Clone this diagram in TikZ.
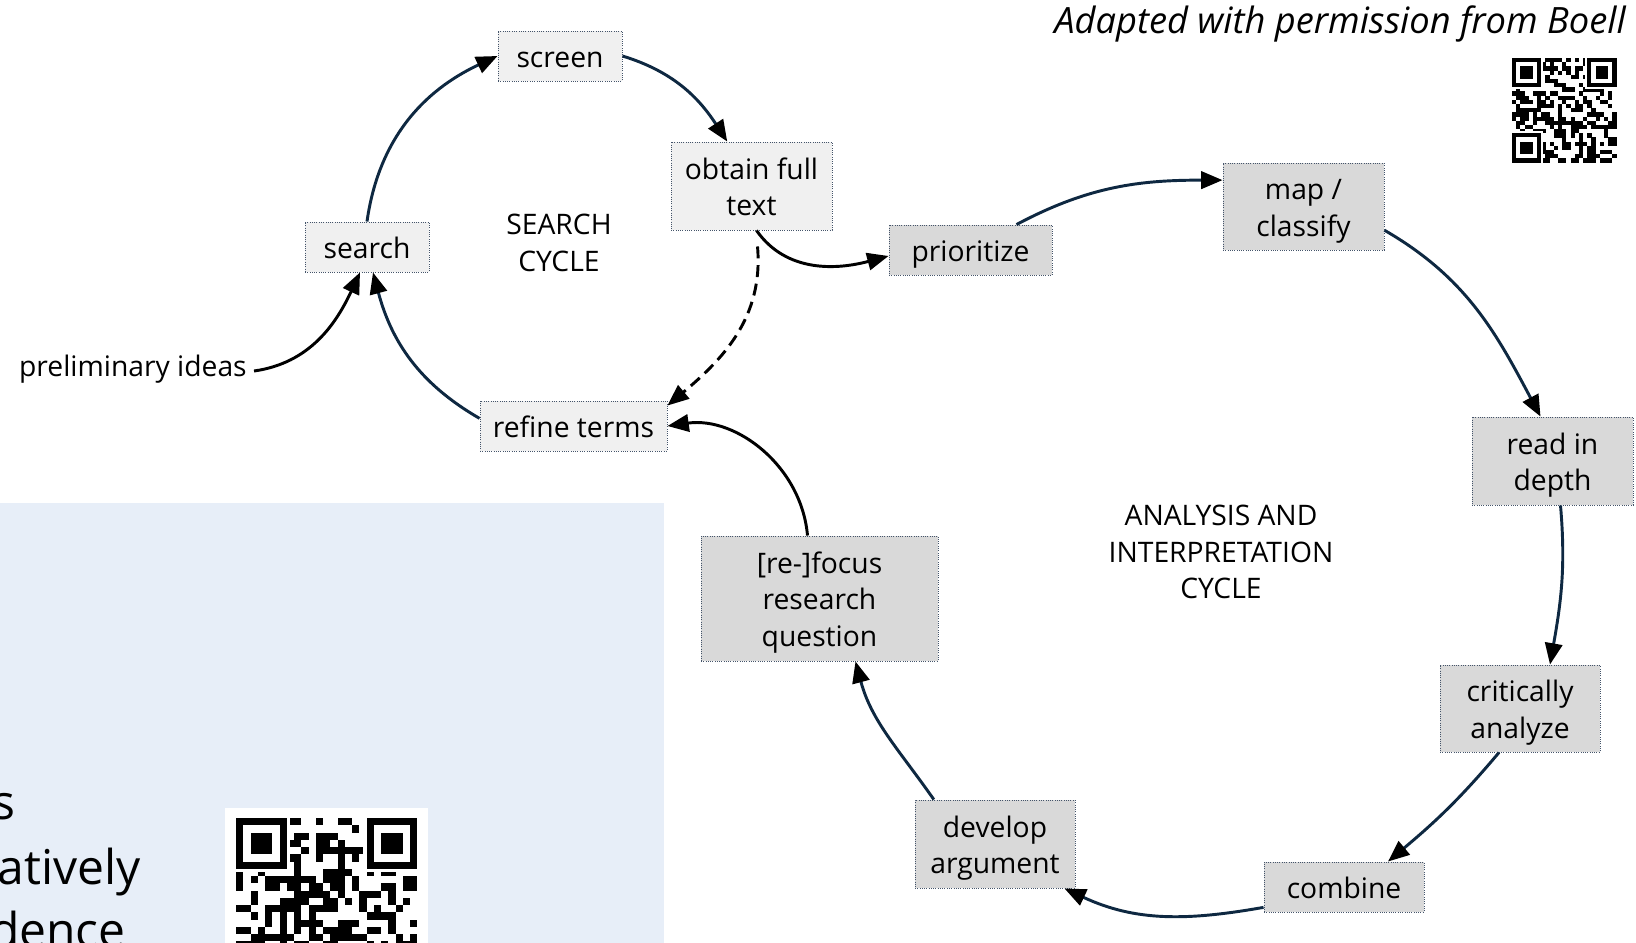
\documentclass[tikz,border=0pt]{standalone}
\usepackage{fontspec}
\setmainfont{Open Sans}
\usetikzlibrary{arrows.meta,calc}
\definecolor{navy}{HTML}{0E2841}
\definecolor{boxline}{HTML}{44546A}
\definecolor{lightbox}{HTML}{F0F0F0}
\definecolor{darkbox}{HTML}{D9D9D9}
\definecolor{panelblue}{RGB}{231,238,248}
\newcommand{\myqr}[4]{%
\begin{scope}[shift={(#1,#2)}, scale=#3]
 \pgfmathsetseed{#4}
 \foreach \i in {0,...,24}{\foreach \j in {0,...,24}{%
   \pgfmathrandominteger{\rr}{0}{1}%
   \ifnum\rr=1 \fill[black] (\i,\j) rectangle ++(1.02,1.02);\fi}}
 \foreach \a/\b in {0/0,18/0,0/18}{%
   \fill[white] (\a-0.5,\b-0.5) rectangle ++(8,8);
   \fill[black] (\a,\b) rectangle ++(7,7);
   \fill[white] (\a+1,\b+1) rectangle ++(5,5);
   \fill[black] (\a+2,\b+2) rectangle ++(3,3);}
\end{scope}}
\begin{document}
\begin{tikzpicture}[x=0.75pt,y=-0.75pt,
  boxfont/.style={font=\fontsize{21.2pt}{27.6pt}\selectfont},
  sz/.style 2 args={minimum width=#1*0.75pt, minimum height=#2*0.75pt},
  lbox/.style={draw=boxline, densely dotted, line width=0.7pt, fill=lightbox, inner sep=0pt, align=center, boxfont,
    execute at begin node={\rule{0pt}{25.5pt}}, execute at end node={\rule[-8.3pt]{0pt}{8.3pt}}},
  twol/.style={execute at begin node={\rule{0pt}{53.1pt}}},
  threel/.style={execute at begin node={\rule{0pt}{80.7pt}}},
  dbox/.style={lbox, fill=darkbox},
  arr/.style={-{Triangle[length=16pt,width=13pt,color=black]}, line width=2.2pt, draw=navy},
  barr/.style={arr, draw=black},
  lbl/.style={inner sep=0pt, align=center, boxfont}]
\useasboundingbox (0,0) rectangle (1636,943);
\clip (0,0) rectangle (1636,943);
\fill[white] (0,0) rectangle (1636,943);

% lower-left panel
\fill[panelblue] (0,503) rectangle (664,950);
\node[anchor=base east, inner sep=0pt, font=\fontsize{36pt}{40pt}\selectfont] (frag1) at (16,819) {s};
\node[anchor=base east, inner sep=0pt, font=\fontsize{36pt}{40pt}\selectfont] (frag2) at (141,884) {atively};
\node[anchor=base east, inner sep=0pt, font=\fontsize{36pt}{40pt}\selectfont] (frag3) at (126,947) {dence};
\fill[white] (225,808) rectangle (428,950);
\myqr{236}{818}{7.25}{17}

% header and QR
\node[anchor=base east, inner sep=0pt, font=\fontsize{27.2pt}{30pt}\selectfont\itshape] (credit) at (1626,33) {Adapted with permission from Boell};
\myqr{1512}{58}{4.18}{5}

% search cycle
\node[lbox, sz={124}{50}] (screen) at (560,56) {screen};
\node[lbox, twol, sz={161}{88}] (obtain) at (751.5,186) {obtain full\\text};
\node[lbox, sz={124}{50}] (search) at (367,247) {search};
\node[lbox, sz={187}{50}] (refine) at (573.5,426) {refine terms};
\node[lbl] (scyc) at (559,243) {SEARCH\\CYCLE};
\node[anchor=base east, inner sep=0pt, boxfont] (prelim) at (247,376) {preliminary ideas};

% analysis cycle
\node[dbox, sz={163}{50}] (prior) at (970.5,250) {prioritize};
\node[dbox, twol, sz={161}{87}] (map) at (1303.5,206.5) {map /\\classify};
\node[dbox, twol, sz={161}{88}] (read) at (1552.5,461) {read in\\depth};
\node[dbox, twol, sz={160}{87}] (crit) at (1520,708.5) {critically\\analyze};
\node[dbox, sz={160}{50}] (comb) at (1344,887) {combine};
\node[dbox, twol, sz={160}{88}] (dev) at (995,844) {develop\\argument};
\node[dbox, threel, sz={237}{125}] (focus) at (819.5,598.5) {[re-]focus\\research\\question};
\node[lbl] (acyc) at (1221,552) {ANALYSIS AND\\INTERPRETATION\\CYCLE};

% connectors: search cycle
\draw[arr] (search.north) to[out=82,in=205] (screen.west);
\draw[arr] (screen.east) to[out=-17,in=123] ($(obtain.north west)!0.35!(obtain.north east)$);
\draw[arr] ($(refine.north west)!0.35!(refine.south west)$) to[out=150,in=-75] ($(search.south)+(6,0)$);
\draw[barr] ($(prelim.base east)+(7,-5)$) to[out=8,in=245] ($(search.south)+(-7,0)$);
\draw[barr] ($(obtain.south)+(5,0)$) to[out=-55,in=195] ($(prior.west)+(0,6)$);
\draw[barr, dash pattern=on 9pt off 5pt] ($(obtain.south)+(6,16)$) to[out=-85,in=40] ($(refine.north east)+(0,5)$);
\draw[barr] ($(focus.north)+(-12,0)$) to[out=95,in=8] (refine.east);

% connectors: analysis cycle
\draw[arr] ($(prior.north)+(46,0)$) to[out=28,in=180] ($(map.north west)!0.2!(map.south west)$);
\draw[arr] ($(map.north east)!0.77!(map.south east)$) to[out=-30,in=118] ($(read.north)+(-12,0)$);
\draw[arr] ($(read.south)+(8,0)$) to[out=-85,in=80] ($(crit.north)+(30,0)$);
\draw[arr] ($(crit.south)+(-21,0)$) to[out=-130,in=40] ($(comb.north)+(44,0)$);
\draw[arr] ($(comb.north west)!0.9!(comb.south west)$) to[out=190,in=-25] ($(dev.south east)+(-11,0)$);
\draw[arr] ($(dev.north west)!0.12!(dev.north east)$) to[out=125,in=-75] ($(focus.south)+(36,0)$);
\end{tikzpicture}
\end{document}
